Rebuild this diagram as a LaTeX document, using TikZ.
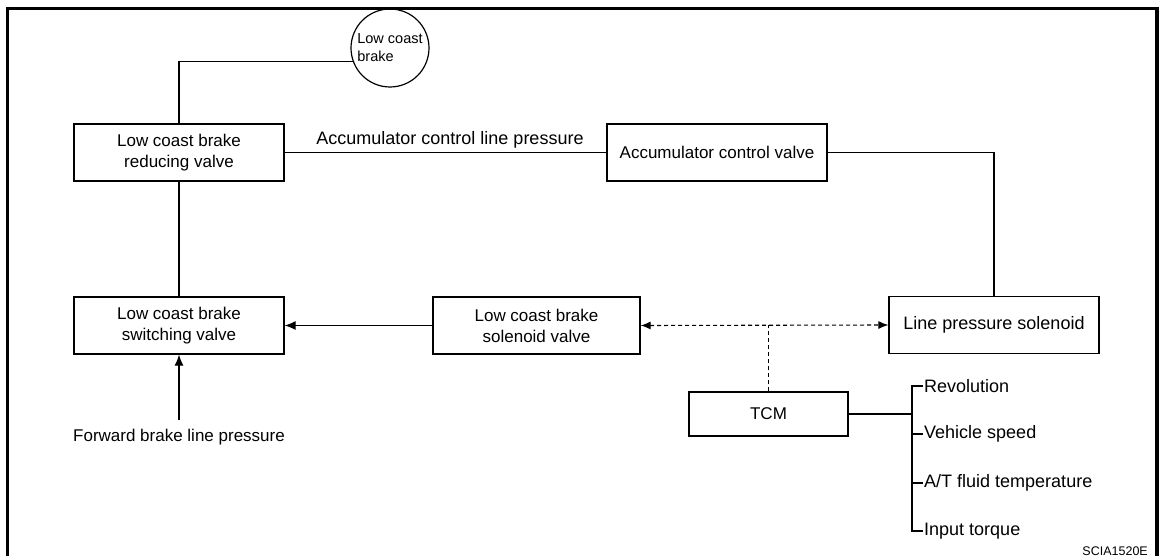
\documentclass[tikz,border=0pt]{standalone}
\usepackage{fontspec}
\setmainfont{Liberation Sans}
\usetikzlibrary{arrows.meta}
\tikzset{
  box/.style={draw, line width=1.2pt, minimum width=#1, minimum height=57pt, inner sep=0pt, align=center, font=\fontsize{17}{21}\selectfont},
  box/.default=210pt,
  lab/.style={inner sep=1pt, font=\fontsize{17}{21}\selectfont},
  biglab/.style={inner sep=1pt, font=\fontsize{18}{21}\selectfont},
  conn/.style={line width=1.2pt},
  arr/.style={conn, -{Latex[length=11pt,width=9pt]}},
  dashline/.style={line width=1.1pt, dash pattern=on 4pt off 3pt},
}
\begin{document}
\begin{tikzpicture}[x=1pt,y=-1pt]
\useasboundingbox (0,0) rectangle (1161,556);
\clip (0,0) rectangle (1161,556);
% frame
\draw[line width=3.5pt] (7.5,600) -- (7.5,8.5) -- (1157,8.5) -- (1157,600);

% nodes
\node[draw, circle, line width=1.2pt, minimum size=78pt, inner sep=0pt, align=left, font=\fontsize{14.5}{18}\selectfont] (lcb) at (390,48) {Low coast\\brake};
\node[box] (rv) at (179,152.5) {Low coast brake\\reducing valve};
\node[box=220pt] (acv) at (717,152.5) {Accumulator control valve};
\node[biglab] (acl) at (450,140) {Accumulator control line pressure};
\node[box] (sv) at (179,325.5) {Low coast brake\\switching valve};
\node[box=207pt] (lsv) at (536.5,325.5) {Low coast brake\\solenoid valve};
\node[box, font=\fontsize{18}{21}\selectfont] (lps) at (994,325) {Line pressure solenoid};
\node[box=159pt, minimum height=44pt] (tcm) at (768.5,414) {TCM};
\node[lab] (fbl) at (179,437) {Forward brake line pressure};
\coordinate (fb) at (179,420);

\node[biglab, anchor=west] (rev) at (923,386) {Revolution};
\node[biglab, anchor=west] (vs) at (923,434) {Vehicle speed};
\node[biglab, anchor=west] (atf) at (923,483) {A/T fluid temperature};
\node[biglab, anchor=west] (it) at (923,531) {Input torque};
\coordinate (bx) at (912,414);

\node[inner sep=0pt, anchor=east, font=\fontsize{12.5}{14}\selectfont] (code) at (1148,551) {SCIA1520E};

% connectors
\draw[conn] (rv.north) |- (lcb.200);
\draw[conn] (rv.south) -- (sv.north);
\draw[conn] (rv.east) -- (acv.west);
\draw[conn] (acv.east) -| (lps.north);
\draw[arr] (lsv.west) -- (sv.east);
\draw[arr] (fb) -- (sv.south);
\draw[dashline, {Latex[length=10pt,width=8pt]}-{Latex[length=10pt,width=8pt]}] (lsv.east) -- (lps.west);
\draw[dashline] (tcm.north) -- (tcm.north |- lps.west);
\draw[conn] (tcm.east) -- (bx);
\draw[conn] (rev.west) -| (bx);
\draw[conn] (it.west) -| (bx);
\draw[conn] (vs.west) -- (vs.west -| bx);
\draw[conn] (atf.west) -- (atf.west -| bx);
\end{tikzpicture}
\end{document}
